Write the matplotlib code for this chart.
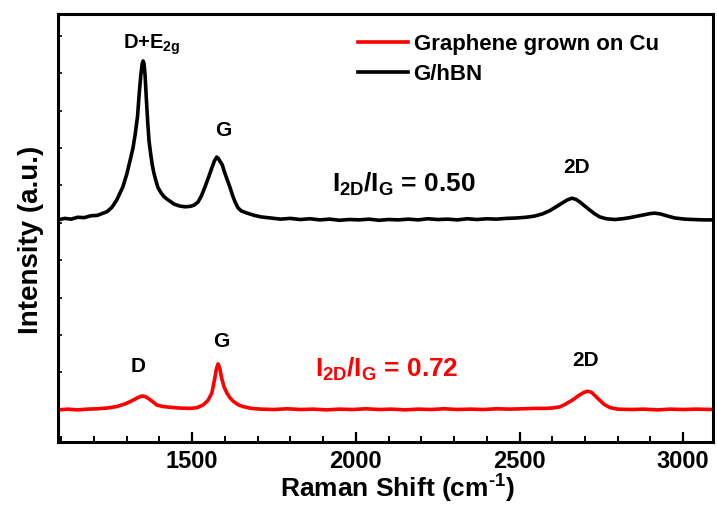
import matplotlib
matplotlib.use("Agg")
import matplotlib.pyplot as plt
from matplotlib.ticker import MultipleLocator

plt.rcParams['font.family'] = ['Liberation Sans', 'DejaVu Sans']
plt.rcParams['font.weight'] = 'bold'
plt.rcParams['mathtext.fontset'] = 'custom'
plt.rcParams['mathtext.rm'] = 'Liberation Sans:bold'
plt.rcParams['mathtext.it'] = 'Liberation Sans:bold'
plt.rcParams['mathtext.bf'] = 'Liberation Sans:bold'

# spectra (Raman shift in cm-1, intensity in a.u.)
hbn_x = [1090, 1110, 1130, 1150, 1170, 1190, 1210, 1225, 1240, 1255, 1270, 1288,
         1300, 1310, 1319, 1326, 1333, 1338, 1343, 1347, 1350, 1353, 1356, 1360,
         1364, 1368, 1373, 1378, 1383, 1390, 1395, 1405, 1414, 1425, 1432, 1445,
         1462, 1478, 1493, 1505, 1517, 1528, 1539, 1550, 1560, 1568, 1575, 1580,
         1586, 1592, 1597, 1605, 1615, 1623, 1631, 1640, 1650, 1668, 1690, 1710,
         1740, 1770, 1800, 1830, 1860, 1890, 1920, 1950, 1980, 2010, 2040, 2070,
         2100, 2130, 2160, 2190, 2220, 2250, 2280, 2310, 2340, 2370, 2400, 2430,
         2460, 2490, 2520, 2545, 2570, 2593, 2612, 2630, 2645, 2660, 2672, 2684,
         2698, 2715, 2730, 2745, 2765, 2791, 2815, 2837, 2860, 2883, 2900, 2913,
         2930, 2953, 2975, 3005, 3030, 3060, 3091]
hbn_y = [5.08, 5.12, 5.10, 5.15, 5.14, 5.19, 5.20, 5.25, 5.30, 5.42, 5.62, 5.96,
         6.30, 6.66, 7.00, 7.38, 7.85, 8.45, 8.95, 9.25, 9.33, 9.25, 8.95, 8.30,
         7.70, 7.20, 6.85, 6.55, 6.33, 6.10, 5.95, 5.80, 5.70, 5.62, 5.58, 5.50,
         5.45, 5.43, 5.44, 5.47, 5.55, 5.72, 5.96, 6.22, 6.47, 6.66, 6.76, 6.72,
         6.63, 6.55, 6.40, 6.20, 5.96, 5.74, 5.56, 5.40, 5.32, 5.26, 5.20, 5.16,
         5.13, 5.10, 5.12, 5.09, 5.11, 5.08, 5.10, 5.07, 5.09, 5.08, 5.10, 5.07,
         5.09, 5.08, 5.10, 5.08, 5.11, 5.09, 5.10, 5.08, 5.11, 5.09, 5.11, 5.10,
         5.12, 5.13, 5.15, 5.18, 5.24, 5.33, 5.43, 5.53, 5.61, 5.66, 5.63, 5.56,
         5.46, 5.34, 5.24, 5.16, 5.11, 5.09, 5.11, 5.14, 5.18, 5.22, 5.25, 5.26,
         5.24, 5.18, 5.13, 5.10, 5.09, 5.08, 5.08]

cu_x = [1090, 1120, 1150, 1180, 1210, 1240, 1270, 1295, 1315, 1330, 1342, 1350,
        1358, 1370, 1382, 1392, 1410, 1432, 1460, 1493, 1515, 1533, 1548, 1560,
        1568, 1574, 1579, 1584, 1590, 1597, 1606, 1615, 1624, 1640, 1655, 1680,
        1710, 1750, 1790, 1830, 1870, 1910, 1950, 1990, 2030, 2070, 2110, 2150,
        2190, 2230, 2270, 2310, 2350, 2390, 2430, 2470, 2510, 2550, 2580, 2600,
        2623, 2640, 2663, 2680, 2695, 2708, 2720, 2740, 2758, 2777, 2800, 2840,
        2880, 2920, 2960, 3000, 3040, 3091]
cu_y = [0.00, 0.02, 0.00, 0.02, 0.03, 0.05, 0.09, 0.16, 0.24, 0.31, 0.36, 0.37,
        0.35, 0.28, 0.20, 0.13, 0.09, 0.07, 0.05, 0.04, 0.06, 0.13, 0.25, 0.45,
        0.80, 1.10, 1.23, 1.12, 0.85, 0.62, 0.45, 0.33, 0.24, 0.14, 0.09, 0.04,
        0.02, 0.01, 0.03, 0.01, 0.02, 0.00, 0.02, 0.01, 0.03, 0.01, 0.02, 0.00,
        0.02, 0.01, 0.03, 0.01, 0.02, 0.01, 0.03, 0.02, 0.03, 0.04, 0.04, 0.05,
        0.08, 0.15, 0.27, 0.38, 0.46, 0.50, 0.47, 0.30, 0.15, 0.06, 0.02, 0.01,
        0.02, 0.00, 0.02, 0.01, 0.02, 0.01]

x_major = [1500, 2000, 2500, 3000]

fig = plt.figure(figsize=(7.17, 5.25), dpi=100)
ax = fig.add_axes([0.0809, 0.158, 0.9135, 0.815])

ax.plot(cu_x, cu_y, color='#ff0000', lw=2.6, label='Graphene grown on Cu')
ax.plot(hbn_x, hbn_y, color='black', lw=2.6, label='G/hBN')

ax.set_xlim(1090, 3091)
ax.set_ylim(-0.86, 10.58)
ax.set_xticks(x_major)
ax.xaxis.set_minor_locator(MultipleLocator(100))
ax.yaxis.set_major_locator(MultipleLocator(1))
ax.set_yticklabels([])

ax.tick_params(axis='x', which='major', direction='in', length=7, width=1.6,
               labelsize=17, pad=6, top=False)
ax.tick_params(axis='x', which='minor', direction='in', length=4, width=1.4, top=False)
ax.tick_params(axis='y', which='major', direction='in', length=3, width=1.2, right=False)
for s in ax.spines.values():
    s.set_linewidth(2.2)

ax.set_xlabel(r'Raman Shift (cm$^{\text{-}1}$)', fontsize=19, fontweight='bold')
ax.xaxis.set_label_coords(0.519, -0.072)
ax.xaxis.label.set_va('top')
ax.set_ylabel('Intensity (a.u.)', fontsize=20, fontweight='bold')
ax.yaxis.set_label_coords(-0.021, 0.472)

# peak labels
ax.text(1288, 9.67, 'D+E$_{2g}$', fontsize=14.5, ha='left', va='baseline')
ax.text(1594, 7.32, 'G', fontsize=15, ha='center', va='baseline')
ax.text(2675, 6.33, '2D', fontsize=15, ha='center', va='baseline')
ax.text(1927, 5.82, '$I_{2D}/I_{G}$ = 0.50', fontsize=19, ha='left', va='baseline')

ax.text(1334, 1.01, 'D', fontsize=15, ha='center', va='baseline')
ax.text(1588, 1.68, 'G', fontsize=15, ha='center', va='baseline')
ax.text(2703, 1.17, '2D', fontsize=15, ha='center', va='baseline')
ax.text(1875, 0.88, '$I_{2D}/I_{G}$ = 0.72', fontsize=19, ha='left', va='baseline',
        color='#ff0000')

fig.legend(loc='upper left', bbox_to_anchor=(0.4993, 0.935), frameon=False,
           fontsize=16, handlelength=2.25, handletextpad=0.25, labelspacing=0.4,
           borderpad=0, borderaxespad=0)

fig.savefig('out.png', dpi=100)
